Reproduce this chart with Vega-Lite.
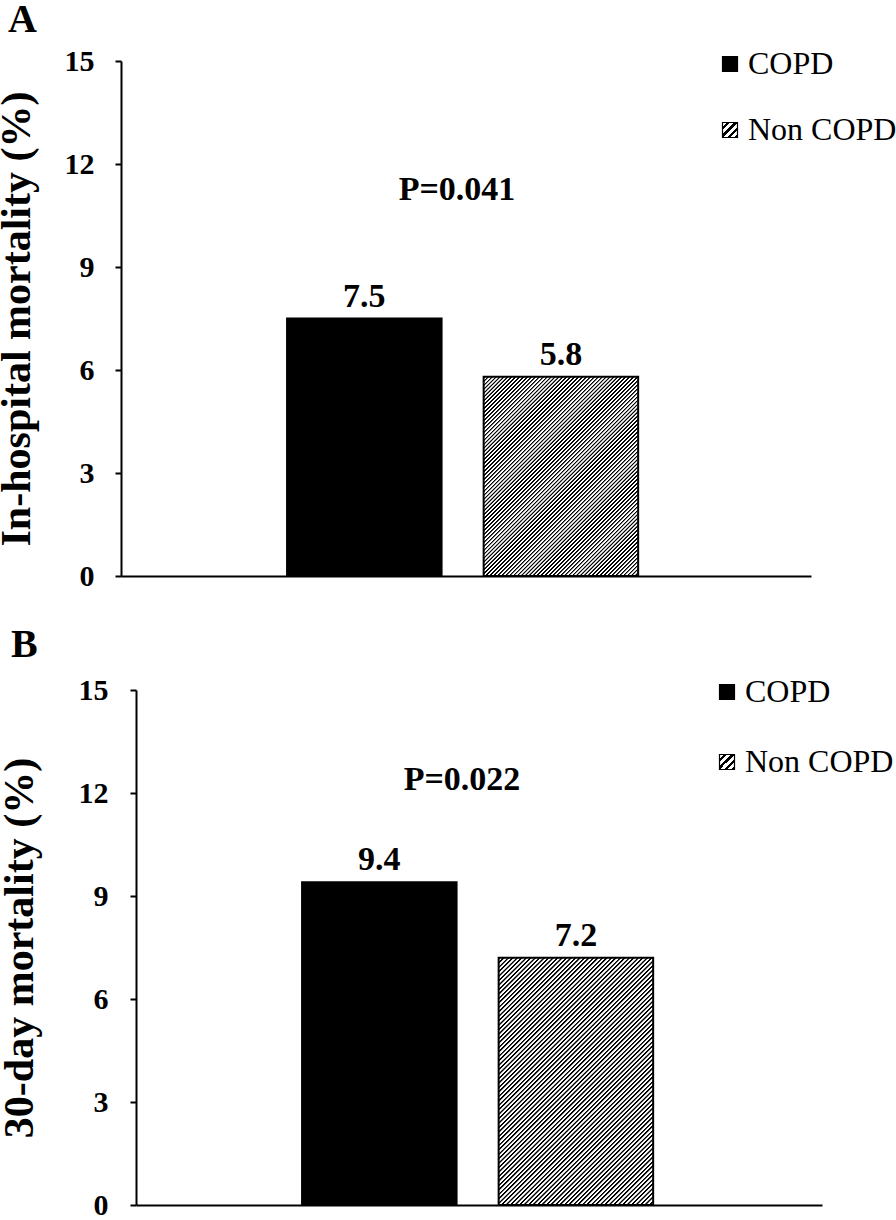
{
  "$schema": "https://vega.github.io/schema/vega-lite/v6.json",
  "padding": {"left": -5, "top": 0, "right": 0, "bottom": 0},
  "background": "white",
  "params": [
    {"name": "hatchStops", "value": [
{"offset":0,"color":"#000"},{"offset":0.00333,"color":"#000"},{"offset":0.00556,"color":"#fff"},{"offset":0.01,"color":"#fff"},
{"offset":0.01111,"color":"#000"},{"offset":0.01444,"color":"#000"},{"offset":0.01667,"color":"#fff"},{"offset":0.02111,"color":"#fff"},
{"offset":0.02222,"color":"#000"},{"offset":0.02555,"color":"#000"},{"offset":0.02778,"color":"#fff"},{"offset":0.03222,"color":"#fff"},
{"offset":0.03333,"color":"#000"},{"offset":0.03666,"color":"#000"},{"offset":0.03889,"color":"#fff"},{"offset":0.04333,"color":"#fff"},
{"offset":0.04444,"color":"#000"},{"offset":0.04777,"color":"#000"},{"offset":0.05,"color":"#fff"},{"offset":0.05444,"color":"#fff"},
{"offset":0.05556,"color":"#000"},{"offset":0.05889,"color":"#000"},{"offset":0.06112,"color":"#fff"},{"offset":0.06556,"color":"#fff"},
{"offset":0.06667,"color":"#000"},{"offset":0.07,"color":"#000"},{"offset":0.07223,"color":"#fff"},{"offset":0.07667,"color":"#fff"},
{"offset":0.07778,"color":"#000"},{"offset":0.08111,"color":"#000"},{"offset":0.08334,"color":"#fff"},{"offset":0.08778,"color":"#fff"},
{"offset":0.08889,"color":"#000"},{"offset":0.09222,"color":"#000"},{"offset":0.09445,"color":"#fff"},{"offset":0.09889,"color":"#fff"},
{"offset":0.1,"color":"#000"},{"offset":0.10333,"color":"#000"},{"offset":0.10556,"color":"#fff"},{"offset":0.11,"color":"#fff"},
{"offset":0.11111,"color":"#000"},{"offset":0.11444,"color":"#000"},{"offset":0.11667,"color":"#fff"},{"offset":0.12111,"color":"#fff"},
{"offset":0.12222,"color":"#000"},{"offset":0.12555,"color":"#000"},{"offset":0.12778,"color":"#fff"},{"offset":0.13222,"color":"#fff"},
{"offset":0.13333,"color":"#000"},{"offset":0.13666,"color":"#000"},{"offset":0.13889,"color":"#fff"},{"offset":0.14333,"color":"#fff"},
{"offset":0.14444,"color":"#000"},{"offset":0.14777,"color":"#000"},{"offset":0.15,"color":"#fff"},{"offset":0.15444,"color":"#fff"},
{"offset":0.15556,"color":"#000"},{"offset":0.15889,"color":"#000"},{"offset":0.16112,"color":"#fff"},{"offset":0.16556,"color":"#fff"},
{"offset":0.16667,"color":"#000"},{"offset":0.17,"color":"#000"},{"offset":0.17223,"color":"#fff"},{"offset":0.17667,"color":"#fff"},
{"offset":0.17778,"color":"#000"},{"offset":0.18111,"color":"#000"},{"offset":0.18334,"color":"#fff"},{"offset":0.18778,"color":"#fff"},
{"offset":0.18889,"color":"#000"},{"offset":0.19222,"color":"#000"},{"offset":0.19445,"color":"#fff"},{"offset":0.19889,"color":"#fff"},
{"offset":0.2,"color":"#000"},{"offset":0.20333,"color":"#000"},{"offset":0.20556,"color":"#fff"},{"offset":0.21,"color":"#fff"},
{"offset":0.21111,"color":"#000"},{"offset":0.21444,"color":"#000"},{"offset":0.21667,"color":"#fff"},{"offset":0.22111,"color":"#fff"},
{"offset":0.22222,"color":"#000"},{"offset":0.22555,"color":"#000"},{"offset":0.22778,"color":"#fff"},{"offset":0.23222,"color":"#fff"},
{"offset":0.23333,"color":"#000"},{"offset":0.23666,"color":"#000"},{"offset":0.23889,"color":"#fff"},{"offset":0.24333,"color":"#fff"},
{"offset":0.24444,"color":"#000"},{"offset":0.24777,"color":"#000"},{"offset":0.25,"color":"#fff"},{"offset":0.25444,"color":"#fff"},
{"offset":0.25556,"color":"#000"},{"offset":0.25889,"color":"#000"},{"offset":0.26112,"color":"#fff"},{"offset":0.26556,"color":"#fff"},
{"offset":0.26667,"color":"#000"},{"offset":0.27,"color":"#000"},{"offset":0.27223,"color":"#fff"},{"offset":0.27667,"color":"#fff"},
{"offset":0.27778,"color":"#000"},{"offset":0.28111,"color":"#000"},{"offset":0.28334,"color":"#fff"},{"offset":0.28778,"color":"#fff"},
{"offset":0.28889,"color":"#000"},{"offset":0.29222,"color":"#000"},{"offset":0.29445,"color":"#fff"},{"offset":0.29889,"color":"#fff"},
{"offset":0.3,"color":"#000"},{"offset":0.30333,"color":"#000"},{"offset":0.30556,"color":"#fff"},{"offset":0.31,"color":"#fff"},
{"offset":0.31111,"color":"#000"},{"offset":0.31444,"color":"#000"},{"offset":0.31667,"color":"#fff"},{"offset":0.32111,"color":"#fff"},
{"offset":0.32222,"color":"#000"},{"offset":0.32555,"color":"#000"},{"offset":0.32778,"color":"#fff"},{"offset":0.33222,"color":"#fff"},
{"offset":0.33333,"color":"#000"},{"offset":0.33666,"color":"#000"},{"offset":0.33889,"color":"#fff"},{"offset":0.34333,"color":"#fff"},
{"offset":0.34444,"color":"#000"},{"offset":0.34777,"color":"#000"},{"offset":0.35,"color":"#fff"},{"offset":0.35444,"color":"#fff"},
{"offset":0.35556,"color":"#000"},{"offset":0.35889,"color":"#000"},{"offset":0.36112,"color":"#fff"},{"offset":0.36556,"color":"#fff"},
{"offset":0.36667,"color":"#000"},{"offset":0.37,"color":"#000"},{"offset":0.37223,"color":"#fff"},{"offset":0.37667,"color":"#fff"},
{"offset":0.37778,"color":"#000"},{"offset":0.38111,"color":"#000"},{"offset":0.38334,"color":"#fff"},{"offset":0.38778,"color":"#fff"},
{"offset":0.38889,"color":"#000"},{"offset":0.39222,"color":"#000"},{"offset":0.39445,"color":"#fff"},{"offset":0.39889,"color":"#fff"},
{"offset":0.4,"color":"#000"},{"offset":0.40333,"color":"#000"},{"offset":0.40556,"color":"#fff"},{"offset":0.41,"color":"#fff"},
{"offset":0.41111,"color":"#000"},{"offset":0.41444,"color":"#000"},{"offset":0.41667,"color":"#fff"},{"offset":0.42111,"color":"#fff"},
{"offset":0.42222,"color":"#000"},{"offset":0.42555,"color":"#000"},{"offset":0.42778,"color":"#fff"},{"offset":0.43222,"color":"#fff"},
{"offset":0.43333,"color":"#000"},{"offset":0.43666,"color":"#000"},{"offset":0.43889,"color":"#fff"},{"offset":0.44333,"color":"#fff"},
{"offset":0.44444,"color":"#000"},{"offset":0.44777,"color":"#000"},{"offset":0.45,"color":"#fff"},{"offset":0.45444,"color":"#fff"},
{"offset":0.45556,"color":"#000"},{"offset":0.45889,"color":"#000"},{"offset":0.46112,"color":"#fff"},{"offset":0.46556,"color":"#fff"},
{"offset":0.46667,"color":"#000"},{"offset":0.47,"color":"#000"},{"offset":0.47223,"color":"#fff"},{"offset":0.47667,"color":"#fff"},
{"offset":0.47778,"color":"#000"},{"offset":0.48111,"color":"#000"},{"offset":0.48334,"color":"#fff"},{"offset":0.48778,"color":"#fff"},
{"offset":0.48889,"color":"#000"},{"offset":0.49222,"color":"#000"},{"offset":0.49445,"color":"#fff"},{"offset":0.49889,"color":"#fff"},
{"offset":0.5,"color":"#000"},{"offset":0.50333,"color":"#000"},{"offset":0.50556,"color":"#fff"},{"offset":0.51,"color":"#fff"},
{"offset":0.51111,"color":"#000"},{"offset":0.51444,"color":"#000"},{"offset":0.51667,"color":"#fff"},{"offset":0.52111,"color":"#fff"},
{"offset":0.52222,"color":"#000"},{"offset":0.52555,"color":"#000"},{"offset":0.52778,"color":"#fff"},{"offset":0.53222,"color":"#fff"},
{"offset":0.53333,"color":"#000"},{"offset":0.53666,"color":"#000"},{"offset":0.53889,"color":"#fff"},{"offset":0.54333,"color":"#fff"},
{"offset":0.54444,"color":"#000"},{"offset":0.54777,"color":"#000"},{"offset":0.55,"color":"#fff"},{"offset":0.55444,"color":"#fff"},
{"offset":0.55556,"color":"#000"},{"offset":0.55889,"color":"#000"},{"offset":0.56112,"color":"#fff"},{"offset":0.56556,"color":"#fff"},
{"offset":0.56667,"color":"#000"},{"offset":0.57,"color":"#000"},{"offset":0.57223,"color":"#fff"},{"offset":0.57667,"color":"#fff"},
{"offset":0.57778,"color":"#000"},{"offset":0.58111,"color":"#000"},{"offset":0.58334,"color":"#fff"},{"offset":0.58778,"color":"#fff"},
{"offset":0.58889,"color":"#000"},{"offset":0.59222,"color":"#000"},{"offset":0.59445,"color":"#fff"},{"offset":0.59889,"color":"#fff"},
{"offset":0.6,"color":"#000"},{"offset":0.60333,"color":"#000"},{"offset":0.60556,"color":"#fff"},{"offset":0.61,"color":"#fff"},
{"offset":0.61111,"color":"#000"},{"offset":0.61444,"color":"#000"},{"offset":0.61667,"color":"#fff"},{"offset":0.62111,"color":"#fff"},
{"offset":0.62222,"color":"#000"},{"offset":0.62555,"color":"#000"},{"offset":0.62778,"color":"#fff"},{"offset":0.63222,"color":"#fff"},
{"offset":0.63333,"color":"#000"},{"offset":0.63666,"color":"#000"},{"offset":0.63889,"color":"#fff"},{"offset":0.64333,"color":"#fff"},
{"offset":0.64444,"color":"#000"},{"offset":0.64777,"color":"#000"},{"offset":0.65,"color":"#fff"},{"offset":0.65444,"color":"#fff"},
{"offset":0.65556,"color":"#000"},{"offset":0.65889,"color":"#000"},{"offset":0.66112,"color":"#fff"},{"offset":0.66556,"color":"#fff"},
{"offset":0.66667,"color":"#000"},{"offset":0.67,"color":"#000"},{"offset":0.67223,"color":"#fff"},{"offset":0.67667,"color":"#fff"},
{"offset":0.67778,"color":"#000"},{"offset":0.68111,"color":"#000"},{"offset":0.68334,"color":"#fff"},{"offset":0.68778,"color":"#fff"},
{"offset":0.68889,"color":"#000"},{"offset":0.69222,"color":"#000"},{"offset":0.69445,"color":"#fff"},{"offset":0.69889,"color":"#fff"},
{"offset":0.7,"color":"#000"},{"offset":0.70333,"color":"#000"},{"offset":0.70556,"color":"#fff"},{"offset":0.71,"color":"#fff"},
{"offset":0.71111,"color":"#000"},{"offset":0.71444,"color":"#000"},{"offset":0.71667,"color":"#fff"},{"offset":0.72111,"color":"#fff"},
{"offset":0.72222,"color":"#000"},{"offset":0.72555,"color":"#000"},{"offset":0.72778,"color":"#fff"},{"offset":0.73222,"color":"#fff"},
{"offset":0.73333,"color":"#000"},{"offset":0.73666,"color":"#000"},{"offset":0.73889,"color":"#fff"},{"offset":0.74333,"color":"#fff"},
{"offset":0.74444,"color":"#000"},{"offset":0.74777,"color":"#000"},{"offset":0.75,"color":"#fff"},{"offset":0.75444,"color":"#fff"},
{"offset":0.75556,"color":"#000"},{"offset":0.75889,"color":"#000"},{"offset":0.76112,"color":"#fff"},{"offset":0.76556,"color":"#fff"},
{"offset":0.76667,"color":"#000"},{"offset":0.77,"color":"#000"},{"offset":0.77223,"color":"#fff"},{"offset":0.77667,"color":"#fff"},
{"offset":0.77778,"color":"#000"},{"offset":0.78111,"color":"#000"},{"offset":0.78334,"color":"#fff"},{"offset":0.78778,"color":"#fff"},
{"offset":0.78889,"color":"#000"},{"offset":0.79222,"color":"#000"},{"offset":0.79445,"color":"#fff"},{"offset":0.79889,"color":"#fff"},
{"offset":0.8,"color":"#000"},{"offset":0.80333,"color":"#000"},{"offset":0.80556,"color":"#fff"},{"offset":0.81,"color":"#fff"},
{"offset":0.81111,"color":"#000"},{"offset":0.81444,"color":"#000"},{"offset":0.81667,"color":"#fff"},{"offset":0.82111,"color":"#fff"},
{"offset":0.82222,"color":"#000"},{"offset":0.82555,"color":"#000"},{"offset":0.82778,"color":"#fff"},{"offset":0.83222,"color":"#fff"},
{"offset":0.83333,"color":"#000"},{"offset":0.83666,"color":"#000"},{"offset":0.83889,"color":"#fff"},{"offset":0.84333,"color":"#fff"},
{"offset":0.84444,"color":"#000"},{"offset":0.84777,"color":"#000"},{"offset":0.85,"color":"#fff"},{"offset":0.85444,"color":"#fff"},
{"offset":0.85556,"color":"#000"},{"offset":0.85889,"color":"#000"},{"offset":0.86112,"color":"#fff"},{"offset":0.86556,"color":"#fff"},
{"offset":0.86667,"color":"#000"},{"offset":0.87,"color":"#000"},{"offset":0.87223,"color":"#fff"},{"offset":0.87667,"color":"#fff"},
{"offset":0.87778,"color":"#000"},{"offset":0.88111,"color":"#000"},{"offset":0.88334,"color":"#fff"},{"offset":0.88778,"color":"#fff"},
{"offset":0.88889,"color":"#000"},{"offset":0.89222,"color":"#000"},{"offset":0.89445,"color":"#fff"},{"offset":0.89889,"color":"#fff"},
{"offset":0.9,"color":"#000"},{"offset":0.90333,"color":"#000"},{"offset":0.90556,"color":"#fff"},{"offset":0.91,"color":"#fff"},
{"offset":0.91111,"color":"#000"},{"offset":0.91444,"color":"#000"},{"offset":0.91667,"color":"#fff"},{"offset":0.92111,"color":"#fff"},
{"offset":0.92222,"color":"#000"},{"offset":0.92555,"color":"#000"},{"offset":0.92778,"color":"#fff"},{"offset":0.93222,"color":"#fff"},
{"offset":0.93333,"color":"#000"},{"offset":0.93666,"color":"#000"},{"offset":0.93889,"color":"#fff"},{"offset":0.94333,"color":"#fff"},
{"offset":0.94444,"color":"#000"},{"offset":0.94777,"color":"#000"},{"offset":0.95,"color":"#fff"},{"offset":0.95444,"color":"#fff"},
{"offset":0.95556,"color":"#000"},{"offset":0.95889,"color":"#000"},{"offset":0.96112,"color":"#fff"},{"offset":0.96556,"color":"#fff"},
{"offset":0.96667,"color":"#000"},{"offset":0.97,"color":"#000"},{"offset":0.97223,"color":"#fff"},{"offset":0.97667,"color":"#fff"},
{"offset":0.97778,"color":"#000"},{"offset":0.98111,"color":"#000"},{"offset":0.98334,"color":"#fff"},{"offset":0.98778,"color":"#fff"},
{"offset":0.98889,"color":"#000"},{"offset":0.99222,"color":"#000"},{"offset":0.99445,"color":"#fff"},{"offset":1,"color":"#fff"}
    ]},
    {"name": "legendStops", "value": [
      {"offset": 0, "color": "#fff"}, {"offset": 0.14, "color": "#fff"}, {"offset": 0.14, "color": "#000"}, {"offset": 0.25, "color": "#000"},
      {"offset": 0.25, "color": "#fff"}, {"offset": 0.39, "color": "#fff"}, {"offset": 0.39, "color": "#000"}, {"offset": 0.5, "color": "#000"},
      {"offset": 0.5, "color": "#fff"}, {"offset": 0.64, "color": "#fff"}, {"offset": 0.64, "color": "#000"}, {"offset": 0.75, "color": "#000"},
      {"offset": 0.75, "color": "#fff"}, {"offset": 0.89, "color": "#fff"}, {"offset": 0.89, "color": "#000"}, {"offset": 1, "color": "#000"}
    ]}
  ],
  "datasets": {
    "bars": [
      {"panel": "A", "group": "COPD", "value": 7.5},
      {"panel": "A", "group": "Non COPD", "value": 5.8},
      {"panel": "B", "group": "COPD", "value": 9.4},
      {"panel": "B", "group": "Non COPD", "value": 7.2}
    ],
    "pvals": [
      {"panel": "A", "label": "P=0.041"},
      {"panel": "B", "label": "P=0.022"}
    ]
  },
  "config": {
    "view": {"stroke": null},
    "font": "Liberation Serif",
    "axisY": {
      "domainColor": "black", "domainWidth": 2, "tickColor": "black", "tickWidth": 2, "tickSize": 6,
      "labelFont": "Liberation Serif", "labelFontSize": 30, "labelFontWeight": "bold", "labelColor": "black",
      "titleFont": "Liberation Serif", "titleFontSize": 42, "titleFontWeight": "bold", "titleColor": "black",
      "grid": false
    },
    "axisX": {"domainColor": "black", "domainWidth": 2, "ticks": false, "labels": false, "title": null, "grid": false},
    "legend": {
      "orient": "none", "title": null, "labelFont": "Liberation Serif", "labelFontSize": 32, "labelColor": "black",
      "symbolType": "square", "symbolSize": 225, "symbolStrokeWidth": 1.2,
      "labelOffset": 2, "padding": 0
    },
    "title": {"font": "Liberation Serif", "fontSize": 40, "fontWeight": "bold", "color": "black", "anchor": "start", "frame": "bounds", "offset": 6, "dx": 13}
  },
  "columns": 1,
  "bounds": "full",
  "spacing": 34,
  "resolve": {"scale": {"opacity": "independent", "y": "independent"}, "legend": {"opacity": "independent"}},
  "concat": [
    {
      "title": {"text": "A"},
      "width": 690,
      "height": 515,
      "data": {"name": "bars"},
      "transform": [{"filter": "datum.panel === 'A'"}],
      "layer": [
        {
          "mark": {"type": "bar", "stroke": "black", "strokeWidth": 2,
            "fill": {"expr": "datum.group === 'Non COPD' ? {gradient: 'linear', x1: 0, y1: 0, x2: 0.8602, y2: 1.1086, stops: hatchStops} : ((datum.value === 'Non COPD' || datum.label === 'Non COPD') ? {gradient: 'linear', x1: 0, y1: 0, x2: 1, y2: 1, stops: legendStops} : 'black')"}},
          "encoding": {
            "x": {"field": "panel", "type": "nominal", "scale": {"paddingInner": 0, "paddingOuter": 0}},
            "xOffset": {"field": "group", "type": "nominal", "sort": ["COPD", "Non COPD"], "scale": {"paddingInner": 0.214, "paddingOuter": 0.862}},
            "y": {"field": "value", "type": "quantitative", "scale": {"domain": [0, 15], "nice": false}, "axis": {"title": "In-hospital mortality (%)", "values": [0, 3, 6, 9, 12, 15], "labelFontSize": 30, "labelPadding": 21, "titlePadding": 26}},
            "opacity": {
              "field": "group", "type": "nominal",
              "scale": {"domain": ["COPD", "Non COPD"], "range": [1, 1]},
              "legend": {"legendX": 593, "legendY": -13, "rowPadding": 34}
            }
          }
        },
        {
          "mark": {"type": "text", "font": "Liberation Serif", "fontWeight": "bold", "fontSize": 34, "baseline": "alphabetic", "dy": -12, "color": "black"},
          "encoding": {
            "x": {"field": "panel", "type": "nominal"},
            "xOffset": {"field": "group", "type": "nominal", "sort": ["COPD", "Non COPD"]},
            "y": {"field": "value", "type": "quantitative", "scale": {"domain": [0, 15], "nice": false}},
            "text": {"field": "value", "type": "quantitative", "format": ".1f"}
          }
        },
        {
          "data": {"name": "pvals"},
          "transform": [{"filter": "datum.panel === 'A'"}],
          "mark": {"type": "text", "font": "Liberation Serif", "fontWeight": "bold", "fontSize": 34, "baseline": "alphabetic", "dx": -9, "color": "black"},
          "encoding": {
            "x": {"field": "panel", "type": "nominal"},
            "y": {"datum": 10.95, "type": "quantitative", "scale": {"domain": [0, 15], "nice": false}},
            "text": {"field": "label", "type": "nominal"}
          }
        }
      ]
    },
    {
      "title": {"text": "B", "offset": 10},
      "width": 701,
      "height": 515,
      "data": {"name": "bars"},
      "transform": [{"filter": "datum.panel === 'B'"}],
      "layer": [
        {
          "mark": {"type": "bar", "stroke": "black", "strokeWidth": 2,
            "fill": {"expr": "datum.group === 'Non COPD' ? {gradient: 'linear', x1: 0, y1: 0, x2: 0.7264, y2: 1.1698, stops: hatchStops} : ((datum.value === 'Non COPD' || datum.label === 'Non COPD') ? {gradient: 'linear', x1: 0, y1: 0, x2: 1, y2: 1, stops: legendStops} : 'black')"}},
          "encoding": {
            "x": {"field": "panel", "type": "nominal", "scale": {"range": [15, 701], "paddingInner": 0, "paddingOuter": 0}},
            "xOffset": {"field": "group", "type": "nominal", "sort": ["COPD", "Non COPD"], "scale": {"paddingInner": 0.214, "paddingOuter": 0.862, "align": 0.49}},
            "y": {"field": "value", "type": "quantitative", "scale": {"domain": [0, 15], "nice": false}, "axis": {"title": "30-day mortality (%)", "values": [0, 3, 6, 9, 12, 15], "labelFontSize": 30, "offset": -15, "labelPadding": 22, "titlePadding": 37}},
            "opacity": {
              "field": "group", "type": "nominal",
              "scale": {"domain": ["COPD", "Non COPD"], "range": [1, 1]},
              "legend": {"legendX": 590, "legendY": -14, "rowPadding": 38}
            }
          }
        },
        {
          "mark": {"type": "text", "font": "Liberation Serif", "fontWeight": "bold", "fontSize": 34, "baseline": "alphabetic", "dy": -12, "color": "black"},
          "encoding": {
            "x": {"field": "panel", "type": "nominal"},
            "xOffset": {"field": "group", "type": "nominal", "sort": ["COPD", "Non COPD"]},
            "y": {"field": "value", "type": "quantitative", "scale": {"domain": [0, 15], "nice": false}},
            "text": {"field": "value", "type": "quantitative", "format": ".1f"}
          }
        },
        {
          "data": {"name": "pvals"},
          "transform": [{"filter": "datum.panel === 'B'"}],
          "mark": {"type": "text", "font": "Liberation Serif", "fontWeight": "bold", "fontSize": 34, "baseline": "alphabetic", "dx": -17, "color": "black"},
          "encoding": {
            "x": {"field": "panel", "type": "nominal"},
            "y": {"datum": 12.1, "type": "quantitative", "scale": {"domain": [0, 15], "nice": false}},
            "text": {"field": "label", "type": "nominal"}
          }
        }
      ]
    }
  ]
}
